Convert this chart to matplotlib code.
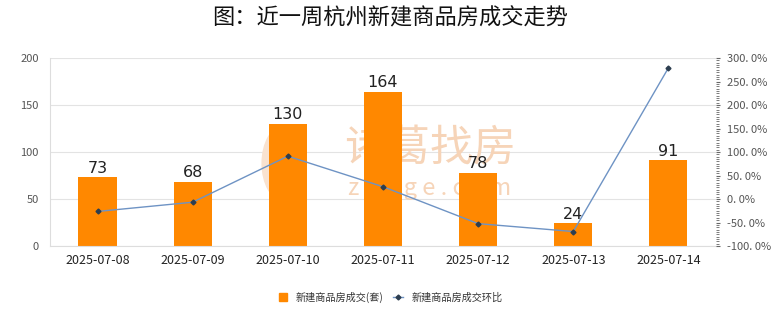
import matplotlib
matplotlib.use('Agg')
import matplotlib.pyplot as plt
from matplotlib.lines import Line2D
from matplotlib.patches import Ellipse
from matplotlib.ticker import MultipleLocator, FuncFormatter

plt.rcParams['font.family'] = ['Noto Sans CJK SC', 'DejaVu Sans']

fechas = ['2025-07-08', '2025-07-09', '2025-07-10', '2025-07-11',
          '2025-07-12', '2025-07-13', '2025-07-14']
成交 = [73, 68, 130, 164, 78, 24, 91]
环比 = [-26.5, -6.8, 91.2, 26.2, -52.4, -69.2, 279.2]

color_barra = '#ff8800'
color_linea = '#6e93c4'
color_punto = '#2d3e50'

fig = plt.figure(figsize=(7.8, 3.28), dpi=100)
ax = fig.add_axes([0.064, 0.25, 0.854, 0.573])
ax2 = ax.twinx()

x = list(range(len(fechas)))

# marca de agua, detrás de las barras
ax.text(0.57, 0.52, '诸葛找房', transform=ax.transAxes, fontsize=31,
        color='#f6d4b8', ha='center', va='center', zorder=1)
ax.text(0.57, 0.305, 'z h u g e . c o m', transform=ax.transAxes, fontsize=17,
        color='#f6d4b8', ha='center', va='center', zorder=1)
ax.add_patch(Ellipse((0.35, 0.44), 0.065, 0.4, transform=ax.transAxes,
                     facecolor='#f9e2cf', edgecolor='none', zorder=1))

ax.bar(x, 成交, width=0.4, color=color_barra, zorder=2)
for xi, v in zip(x, 成交):
    ax.text(xi, v + 2, str(v), ha='center', va='bottom', fontsize=11.5,
            color='#222222', family='DejaVu Sans', zorder=3)

ax2.plot(x, 环比, color=color_linea, linewidth=1, marker='D', markersize=2.5,
         markerfacecolor=color_punto, markeredgecolor=color_punto, zorder=3)

ax.set_xlim(-0.5, len(fechas) - 0.5)
ax.set_ylim(0, 200)
ax.yaxis.set_major_locator(MultipleLocator(50))
ax2.set_ylim(-100, 300)
ax2.yaxis.set_major_locator(MultipleLocator(50))
ax2.yaxis.set_minor_locator(MultipleLocator(5))
ax2.yaxis.set_major_formatter(FuncFormatter(lambda v, p: f'{v:.1f}%'.replace('.', '. ')))

ax.set_xticks(x)
ax.set_xticklabels(fechas, fontsize=9, color='#222222')
ax.tick_params(axis='x', length=0, pad=6)
ax.tick_params(axis='y', length=0, labelsize=8, labelcolor='#555555', pad=8)
ax2.tick_params(axis='y', which='major', length=3, color='#666666',
                labelsize=8, labelcolor='#555555', pad=5)
ax2.tick_params(axis='y', which='minor', length=2, color='#666666')

ax.grid(axis='y', color='#e3e3e3', linewidth=0.8, zorder=0)
ax.set_axisbelow(True)
for lado in ['top', 'right']:
    ax.spines[lado].set_visible(False)
for lado in ['top', 'left', 'bottom', 'right']:
    ax2.spines[lado].set_visible(False)
ax.spines['left'].set_color('#dddddd')
ax.spines['bottom'].set_color('#dddddd')

fig.suptitle('图：近一周杭州新建商品房成交走势', fontsize=16, y=0.98,
             color='#111111', fontweight='medium')

# leyenda abajo
manejadores = [
    Line2D([], [], linestyle='none', marker='s', markersize=6,
           markerfacecolor=color_barra, markeredgecolor=color_barra),
    Line2D([], [], color=color_linea, linewidth=1, marker='D', markersize=2.5,
           markerfacecolor=color_punto, markeredgecolor=color_punto),
]
leg = fig.legend(manejadores, ['新建商品房成交(套)', '新建商品房成交环比'],
                 loc='center', bbox_to_anchor=(0.5, 0.093), ncol=2,
                 frameon=False, fontsize=7.3, handlelength=1.0,
                 columnspacing=0.9, handletextpad=0.8)
for t in leg.get_texts():
    t.set_color('#333333')

fig.savefig('out.png', dpi=100)
